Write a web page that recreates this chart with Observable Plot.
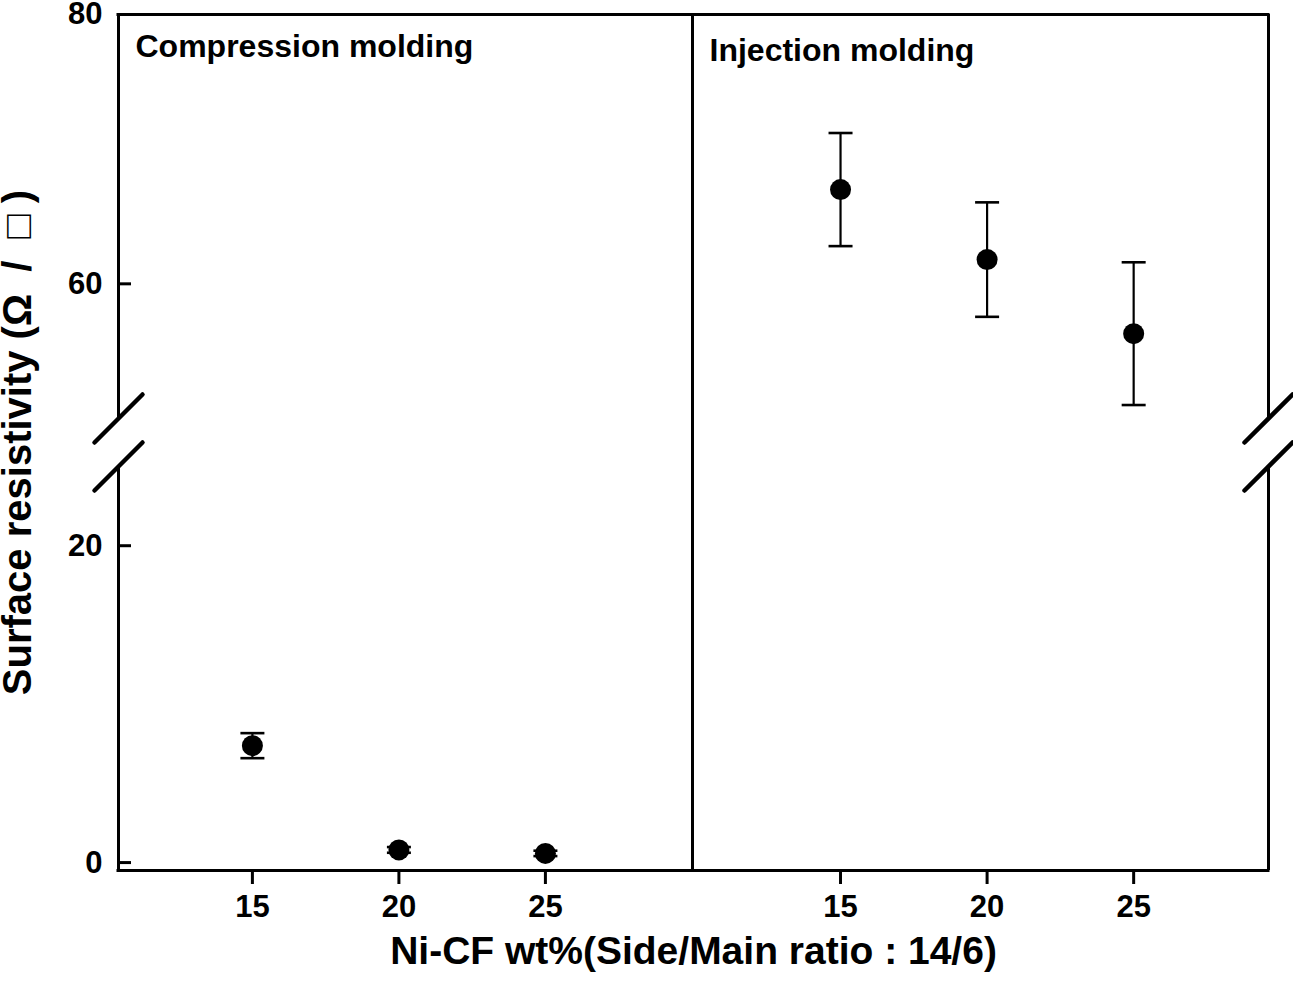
<!DOCTYPE html>
<html><head><meta charset="utf-8">
<script src="https://cdn.jsdelivr.net/npm/d3@7"></script>
<script src="https://cdn.jsdelivr.net/npm/@observablehq/plot@0.6"></script>
<style>body{margin:0;background:#fff;} svg{display:block;}</style>
</head><body><div id="chart"></div>
<script>
// ---- data ----
const wt = [15, 20, 25];
const methods = ["Compression molding", "Injection molding"];
const compressionMean = [7.38, 0.80, 0.58];
const compressionErr = [0.79, 0.18, 0.17];
const injectionMean = [67.0, 61.8, 56.3];
const injectionErr = [4.2, 4.25, 5.3];
const yTicks = [0, 20, 60, 80];
const xTickLabels = [15, 20, 25];
const yBreak = [25, 50];            // axis break from 25 to 50
const yLabel = "Surface resistivity (Ω\u00a0\u00a0/\u00a0\u00a0□\u00a0)";
const xLabel = "Ni-CF wt%(Side/Main ratio : 14/6)";

// ---- scale layout (two panels side by side via piecewise x) ----
const panelOffset = 100;
const xDomain = [10.43, 30.02, 9.95 + panelOffset, 29.6 + panelOffset];
const yDomain = [-0.5, yBreak[0], yBreak[1], 80];

const means = [compressionMean, injectionMean];
const errs = [compressionErr, injectionErr];
const rows = [];
methods.forEach((m, i) => wt.forEach((w, j) => rows.push({
  method: m, wt: w, pos: w + i * panelOffset,
  mean: means[i][j], lo: means[i][j] - errs[i][j], hi: means[i][j] + errs[i][j]
})));

const xTicksAll = methods.flatMap((m, i) => xTickLabels.map(t => t + i * panelOffset));

const borderSegs = [];
[xDomain[0], xDomain[3]].forEach(x => {
  borderSegs.push({x, y1: yDomain[0], y2: yBreak[0]});
  borderSegs.push({x, y1: yBreak[1], y2: yDomain[3]});
});
const breakPts = [];
[xDomain[0], xDomain[3]].forEach(x => yBreak.forEach(y => breakPts.push({x, y})));

const capSymbol = {draw(ctx, size) { const w = Math.sqrt(size / Math.PI); ctx.moveTo(-w, 0); ctx.lineTo(w, 0); }};
const slashSymbol = {draw(ctx, size) { const w = Math.sqrt(size / Math.PI); ctx.moveTo(-w, w); ctx.lineTo(w, -w); }};

const font = "'Liberation Sans', Arial, 'DejaVu Sans', sans-serif";

const plot = Plot.plot({
  width: 1293, height: 985,
  marginLeft: 118, marginRight: 25, marginTop: 14, marginBottom: 115,
  style: {fontFamily: font, background: "#fff", overflow: "visible"},
  x: {type: "linear", domain: xDomain, range: [118, 692, 692, 1268], axis: null},
  y: {type: "linear", domain: yDomain, range: [870, 466, 418, 14], axis: null},
  marks: [
    // top and bottom borders
    Plot.ruleY([yDomain[0], yDomain[3]], {stroke: "black", strokeWidth: 3, insetLeft: -1.5, insetRight: -1.5}),
    // left / right borders with a gap at the break
    Plot.ruleX(borderSegs, {x: "x", y1: "y1", y2: "y2", stroke: "black", strokeWidth: 3}),
    // panel divider
    Plot.ruleX([xDomain[1]], {y1: yDomain[0], y2: yDomain[3], stroke: "black", strokeWidth: 3}),
    // inward y ticks
    Plot.ruleY(yTicks, {stroke: "black", strokeWidth: 3, insetRight: 1137}),
    Plot.axisY(yTicks, {tickSize: 0, tickPadding: 16, fontSize: 31, fontWeight: "bold", fill: "black", label: null}),
    Plot.axisX(xTicksAll, {tickFormat: d => d % panelOffset, tickSize: 14, tickPadding: 10, strokeWidth: 3,
      fontSize: 31, fontWeight: "bold", fill: "black", stroke: "black", label: null}),
    // break marks
    Plot.dot(breakPts, {x: "x", y: "y", r: 24, symbol: slashSymbol, fill: "none", stroke: "black", strokeWidth: 4.5, strokeLinecap: "round"}),
    // error bars
    Plot.ruleX(rows, {x: "pos", y1: "lo", y2: "hi", stroke: "black", strokeWidth: 2.2}),
    Plot.dot(rows, {x: "pos", y: "lo", r: 12, symbol: capSymbol, fill: "none", stroke: "black", strokeWidth: 2.6}),
    Plot.dot(rows, {x: "pos", y: "hi", r: 12, symbol: capSymbol, fill: "none", stroke: "black", strokeWidth: 2.6}),
    Plot.dot(rows, {x: "pos", y: "mean", r: 10.5, fill: "black", stroke: "none"}),
    // panel titles
    Plot.text([methods[0]], {x: xDomain[0], y: yDomain[3], dx: 17, dy: 32, textAnchor: "start", fontSize: 32, fontWeight: "bold", fill: "black"}),
    Plot.text([methods[1]], {x: xDomain[2], y: yDomain[3], dx: 17, dy: 36, textAnchor: "start", fontSize: 32, fontWeight: "bold", fill: "black"}),
    // axis titles
    Plot.text([yLabel], {frameAnchor: "left", dx: -100, rotate: -90, textAnchor: "middle", fontSize: 40, fontWeight: "bold", fill: "black"}),
    Plot.text([xLabel], {frameAnchor: "bottom", dy: 93, fontSize: 39, fontWeight: "bold", fill: "black"})
  ]
});
document.getElementById("chart").appendChild(plot);
</script>
</body></html>
